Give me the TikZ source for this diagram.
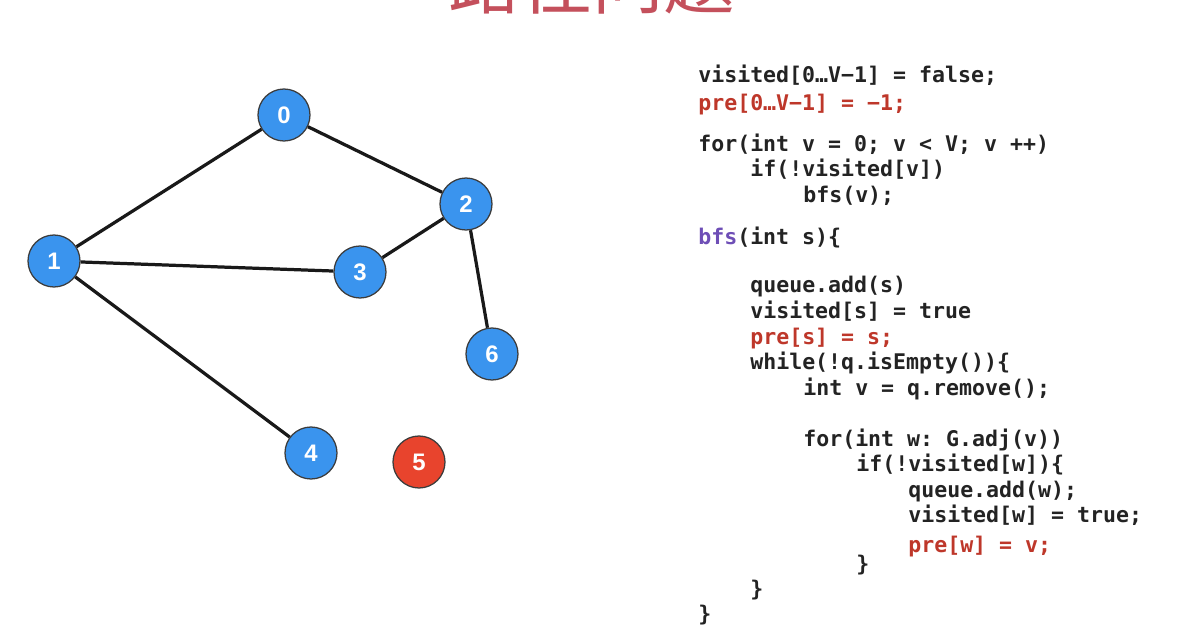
\documentclass[tikz,border=0pt]{standalone}
\usepackage{fontspec}
\setsansfont{Liberation Sans}
\setmonofont{DejaVu Sans Mono}
\newfontfamily\cjkfont{Noto Sans CJK SC}

\definecolor{titlered}{RGB}{196,80,92}
\definecolor{vertexblue}{RGB}{58,148,238}
\definecolor{vertexred}{RGB}{232,68,45}
\definecolor{vertexborder}{RGB}{60,60,60}
\definecolor{codeblack}{RGB}{35,35,35}
\definecolor{codered}{RGB}{190,55,42}
\definecolor{codepurple}{RGB}{110,78,182}

\begin{document}
\begin{tikzpicture}[
    myvertex/.style={circle, draw=vertexborder, line width=0.9pt, fill=vertexblue,
        minimum size=1.3cm, inner sep=0pt, text=white,
        font=\sffamily\bfseries\fontsize{17}{20}\selectfont},
    myedge/.style={line width=2.3pt, black!90},
    codeline/.style={anchor=base west, inner sep=0pt, text=codeblack,
        font=\ttfamily\bfseries\fontsize{15.35}{18}\selectfont},
    heading/.style={font=\cjkfont\fontsize{51}{60}\selectfont, text=titlered},
]

\useasboundingbox (0, 0) rectangle (29.75, 15.9);
\clip (0, 0) rectangle (29.75, 15.9);

% ===================== TITLE =====================
\node[heading, anchor=base] (title) at (14.8, 15.675) {路径问题};

% ===================== GRAPH =====================
\node[myvertex] (v0) at (7.10, 13.025) {0};
\node[myvertex] (v1) at (1.35, 9.375) {1};
\node[myvertex] (v2) at (11.65, 10.8) {2};
\node[myvertex] (v3) at (9.0, 9.1) {3};
\node[myvertex] (v4) at (7.775, 4.575) {4};
\node[myvertex, fill=vertexred] (v5) at (10.475, 4.35) {5};
\node[myvertex] (v6) at (12.3, 7.05) {6};

\draw[myedge] (v0) -- (v1);
\draw[myedge] (v0) -- (v2);
\draw[myedge] (v1) -- (v3);
\draw[myedge] (v2) -- (v3);
\draw[myedge] (v2) -- (v6);
\draw[myedge] (v1) -- (v4);

% ===================== CODE =====================
\foreach \y/\x/\c/\t [count=\i] in {
    13.825/17.45/codeblack/{visited[0…V−1] = false;},
    13.125/17.45/codered/{pre[0…V−1] = −1;},
    12.1/17.45/codeblack/{for(int v = 0; v < V; v ++)},
    11.475/18.75/codeblack/{if(!visited[v])},
    10.825/20.075/codeblack/{bfs(v);},
    9.775/17.45/codeblack/{\textcolor{codepurple}{bfs}(int s)\{},
    8.575/18.75/codeblack/{queue.add(s)},
    7.925/18.75/codeblack/{visited[s] = true},
    7.275/18.75/codered/{pre[s] = s;},
    6.65/18.75/codeblack/{while(!q.isEmpty())\{},
    6.0/20.075/codeblack/{int v = q.remove();},
    4.725/20.075/codeblack/{for(int w: G.adj(v))},
    4.1/21.4/codeblack/{if(!visited[w])\{},
    3.45/22.7/codeblack/{queue.add(w);},
    2.825/22.7/codeblack/{visited[w] = true;},
    2.075/22.7/codered/{pre[w] = v;},
    1.6/21.4/codeblack/{\}},
    0.975/18.75/codeblack/{\}},
    0.35/17.45/codeblack/{\}}} {
    \node[codeline, text=\c] (code\i) at (\x, \y) {\t};
}

\end{tikzpicture}
\end{document}
